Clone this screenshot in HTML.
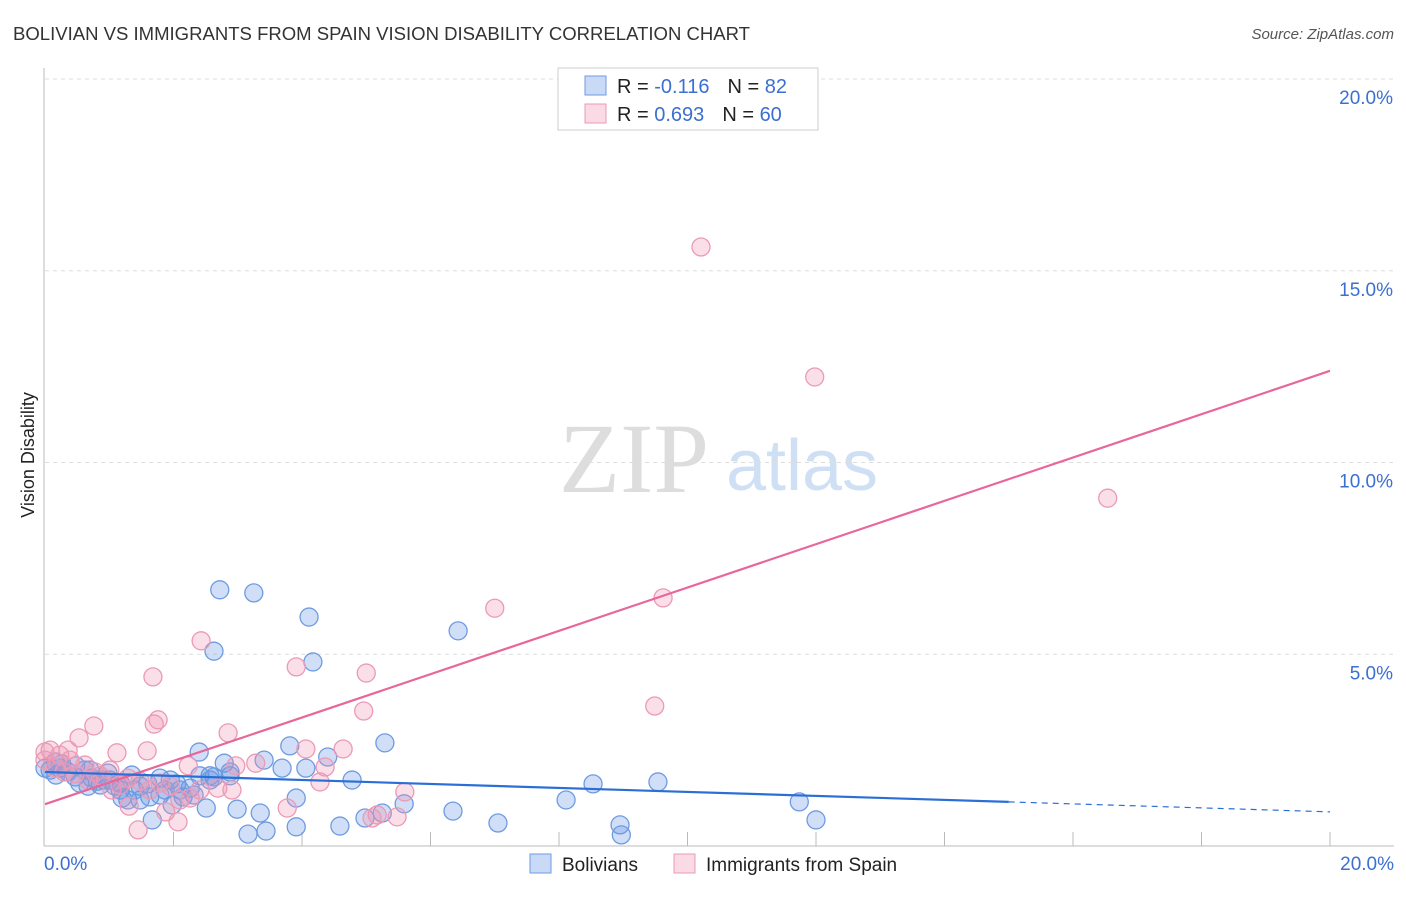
<!DOCTYPE html>
<html><head><meta charset="utf-8"><style>
body{margin:0;background:#fff;font-family:"Liberation Sans",sans-serif;}
svg text{font-family:"Liberation Sans",sans-serif;}
</style></head><body>
<svg id="chart" width="1406" height="892" viewBox="0 0 1406 892">
<text x="13" y="40" font-size="18" fill="#333" textLength="737" lengthAdjust="spacingAndGlyphs">BOLIVIAN VS IMMIGRANTS FROM SPAIN VISION DISABILITY CORRELATION CHART</text>
<text x="1394" y="39" font-size="15" fill="#555" font-style="italic" text-anchor="end">Source: ZipAtlas.com</text>
<g>
<text x="634" y="492" font-size="100" fill="#ddd" font-family="Liberation Serif,serif" text-anchor="middle" style="font-family:'Liberation Serif',serif">ZIP</text>
<text x="802" y="490" font-size="72" fill="#cfe0f5" text-anchor="middle">atlas</text>
</g>
<g id="grid"></g>
<g id="axes"></g>
<g id="marks"></g>
<text transform="translate(34,455) rotate(-90)" font-size="18" fill="#222" text-anchor="middle">Vision Disability</text>
<g>
<rect x="558" y="68" width="260" height="62" fill="#fff" stroke="#ccc"/>
<rect x="585" y="76" width="21" height="19" fill="rgba(100,150,230,0.35)" stroke="#6f9be0"/>
<rect x="585" y="104" width="21" height="19" fill="rgba(240,150,180,0.35)" stroke="#eb9ab5"/>
<text x="617" y="93" font-size="20" fill="#222">R = <tspan fill="#3b6fd1">-0.116</tspan><tspan dx="18">N = </tspan><tspan fill="#3b6fd1">82</tspan></text>
<text x="617" y="121" font-size="20" fill="#222">R = <tspan fill="#3b6fd1"> 0.693</tspan><tspan dx="18">N = </tspan><tspan fill="#3b6fd1">60</tspan></text>
</g>
<g>
<rect x="530" y="854" width="21" height="19" fill="rgba(100,150,230,0.35)" stroke="#6f9be0"/>
<text x="562" y="871" font-size="19" fill="#222">Bolivians</text>
<rect x="674" y="854" width="21" height="19" fill="rgba(240,150,180,0.35)" stroke="#eb9ab5"/>
<text x="706" y="871" font-size="19" fill="#222">Immigrants from Spain</text>
</g>
</svg>
<script>
const yTicks=[5,10,15,20];
const xTickLabels=["0.0%","20.0%"];
const blueX=[2.72,3.25,4.11,2.63,4.17,6.43,5.29,3.81,3.41,2.40,2.79,4.40,4.78,8.53,9.54,8.11,11.74,5.59,3.91,6.35,5.25,4.98,2.99,3.35,2.51,1.67,7.05,8.95,12.00,4.59,3.91,3.44,3.16,8.97,2.05,1.79,1.35,1.01,0.73,0.54,0.23,0.08,0.36,0.86,1.17,1.48,1.95,2.26,2.57,2.88,3.69,4.06,1.29,1.63,2.15,1.98,1.48,1.17,2.41,1.87,0.16,0.47,0.62,0.92,1.09,1.39,1.60,1.79,2.10,2.32,2.57,2.88,2.63,1.20,0.17,0.0,0.26,0.70,0.98,0.82,0.67,0.48];
const blueY=[6.68,6.60,5.97,5.08,4.80,5.61,2.69,2.61,2.24,2.45,2.16,2.32,1.72,1.62,1.67,1.20,1.15,1.10,1.25,0.91,0.86,0.73,0.96,0.86,0.99,0.68,0.60,0.55,0.68,0.52,0.50,0.39,0.31,0.29,1.62,1.77,1.85,1.72,1.77,1.64,2.03,1.98,1.93,1.59,1.64,1.56,1.72,1.51,1.83,1.83,2.03,2.03,1.20,1.28,1.28,1.07,1.20,1.46,1.83,1.46,2.19,1.80,1.98,1.72,1.56,1.46,1.62,1.33,1.46,1.33,1.72,1.93,1.80,1.25,1.85,2.03,2.14,1.98,1.90,1.69,1.56,2.09];
const pinkX=[10.21,11.98,16.54,7.00,9.62,2.43,3.91,5.00,1.68,9.49,4.96,1.76,1.70,0.76,0.53,2.85,1.12,1.59,4.64,4.06,3.28,2.97,2.23,4.36,0.23,0.39,0.62,0.08,0.0,0.16,0.78,1.01,1.29,1.48,1.95,2.10,2.69,2.91,4.28,5.60,5.17,5.48,5.09,3.77,1.88,2.07,1.31,1.45,2.26,1.63,0.86,0.30,0.47,1.79,2.41,1.04,1.17,0.0,0.36,0.67];
const pinkY=[15.62,12.23,9.07,6.20,6.47,5.35,4.67,4.51,4.41,3.65,3.52,3.29,3.18,3.13,2.82,2.95,2.43,2.48,2.53,2.53,2.16,2.09,2.09,2.06,2.37,2.24,2.11,2.50,2.45,2.03,1.93,1.98,1.77,1.69,1.56,1.20,1.51,1.46,1.67,1.41,0.81,0.76,0.73,0.99,0.89,0.63,1.04,0.42,1.25,1.46,1.83,1.93,1.88,1.64,1.46,1.46,1.59,2.24,2.50,1.72];
const pinkLine=[1.09,0.565];   // intercept, slope
const blueLine=[1.93,-0.052];
const blueSolidEnd=15.0;

const NS="http://www.w3.org/2000/svg";
const X0=45,X1=1330,Y0=846,Y20=79;
const xs=v=>X0+(X1-X0)*v/20;
const ys=v=>Y0-(Y0-Y20)*v/20;
function mk(tag,attrs,parent){const e=document.createElementNS(NS,tag);for(const k in attrs)e.setAttribute(k,attrs[k]);parent.appendChild(e);return e;}
const grid=document.getElementById('grid'),axes=document.getElementById('axes'),marks=document.getElementById('marks');
yTicks.forEach(t=>{
  const l=mk('line',{x1:45,x2:1394,y1:ys(t),y2:ys(t),stroke:'#ddd','stroke-dasharray':'4,4'},grid);
  
  
  const tx=mk('text',{x:1393,y:ys(t)+25,'font-size':19,fill:'#3b6fd1','text-anchor':'end'},axes);
  tx.textContent=t.toFixed(1)+'%';
  
  
});
let a=mk('line',{x1:44,x2:44,y1:68,y2:846,stroke:'#bbb'},axes);


a=mk('line',{x1:44,x2:1394,y1:846,y2:846,stroke:'#bbb'},axes);


for(let i=1;i<=10;i++){
  const t=mk('line',{x1:xs(i*2),x2:xs(i*2),y1:832,y2:846,stroke:'#bbb'},axes);
  
  
}
[[0,'start',44],[20,'end',1394]].forEach((d,i)=>{
  const tx=mk('text',{x:d[2],y:870,'font-size':19,fill:'#3b6fd1','text-anchor':d[1]},axes);
  tx.textContent=xTickLabels[i];
  
  
});
blueX.forEach((v,i)=>{
  const c=mk('circle',{cx:xs(v),cy:ys(blueY[i]),r:9,fill:'rgba(100,150,230,0.3)',stroke:'#6f9be0','stroke-width':1.3},marks);
  
  
});
pinkX.forEach((v,i)=>{
  const c=mk('circle',{cx:xs(v),cy:ys(pinkY[i]),r:9,fill:'rgba(240,150,180,0.3)',stroke:'#eb9ab5','stroke-width':1.3},marks);
  
  
});
let ln=mk('line',{x1:xs(0),y1:ys(pinkLine[0]),x2:xs(20),y2:ys(pinkLine[0]+pinkLine[1]*20),stroke:'#e8679a','stroke-width':2.2},marks);


ln=mk('line',{x1:xs(0),y1:ys(blueLine[0]),x2:xs(blueSolidEnd),y2:ys(blueLine[0]+blueLine[1]*blueSolidEnd),stroke:'#2a6fd6','stroke-width':2.2},marks);


ln=mk('line',{x1:xs(blueSolidEnd),y1:ys(blueLine[0]+blueLine[1]*blueSolidEnd),x2:xs(20),y2:ys(blueLine[0]+blueLine[1]*20),stroke:'#2a6fd6','stroke-width':1.2,'stroke-dasharray':'6,5'},marks);


</script>
</body></html>
